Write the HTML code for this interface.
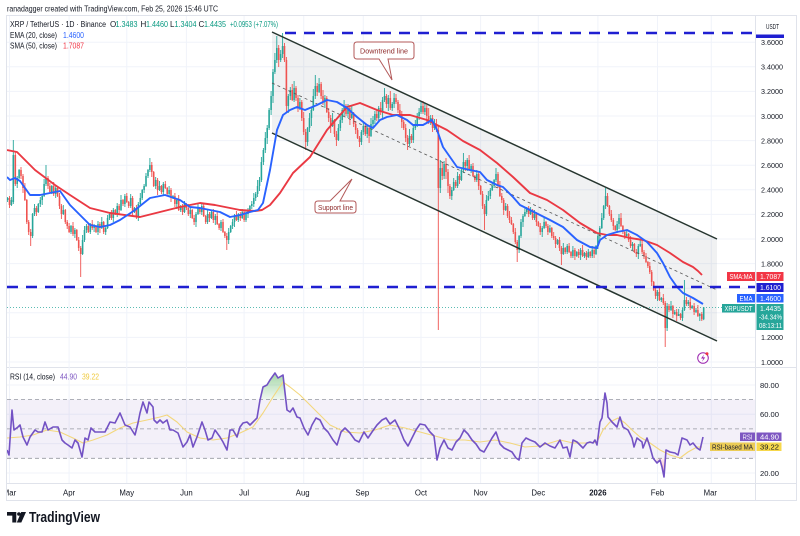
<!DOCTYPE html>
<html><head><meta charset="utf-8">
<style>
html,body{margin:0;padding:0;background:#fff;}
svg{display:block;font-family:"Liberation Sans",sans-serif;}
</style></head><body>
<svg width="800" height="536" viewBox="0 0 800 536" xmlns="http://www.w3.org/2000/svg">
<defs>
<clipPath id="cp"><rect x="7" y="16" width="748.5" height="351"/></clipPath>
<clipPath id="cr"><rect x="7" y="367" width="748.5" height="116"/></clipPath>
<clipPath id="ct"><rect x="7" y="483" width="748.5" height="17"/></clipPath>
<linearGradient id="gg" x1="0" y1="0" x2="0" y2="1"><stop offset="0" stop-color="#4caf50" stop-opacity="0.5"/><stop offset="1" stop-color="#4caf50" stop-opacity="0.08"/></linearGradient>
<linearGradient id="rg" x1="0" y1="0" x2="0" y2="1"><stop offset="0" stop-color="#f23645" stop-opacity="0.08"/><stop offset="1" stop-color="#f23645" stop-opacity="0.5"/></linearGradient>
</defs>
<rect width="800" height="536" fill="#fff"/>

<text x="7" y="11.5" font-size="8.6" fill="#131722" textLength="211" lengthAdjust="spacingAndGlyphs">ranadagger created with TradingView.com, Feb 25, 2026 15:46 UTC</text>

<rect x="6.5" y="15.5" width="790" height="485" fill="none" stroke="#e0e3eb" stroke-width="1"/>
<line x1="7" y1="367.5" x2="797" y2="367.5" stroke="#e0e3eb" stroke-width="1"/>
<line x1="7" y1="483.5" x2="797" y2="483.5" stroke="#e0e3eb" stroke-width="1"/>
<line x1="755.5" y1="16" x2="755.5" y2="500" stroke="#e0e3eb" stroke-width="1"/>

<g stroke="#f0f3fa" stroke-width="1">
<line x1="7" x2="755" y1="42.2" y2="42.2"/><line x1="7" x2="755" y1="66.8" y2="66.8"/><line x1="7" x2="755" y1="91.4" y2="91.4"/><line x1="7" x2="755" y1="116" y2="116"/><line x1="7" x2="755" y1="140.6" y2="140.6"/><line x1="7" x2="755" y1="165.2" y2="165.2"/><line x1="7" x2="755" y1="189.8" y2="189.8"/><line x1="7" x2="755" y1="214.4" y2="214.4"/><line x1="7" x2="755" y1="239" y2="239"/><line x1="7" x2="755" y1="263.6" y2="263.6"/><line x1="7" x2="755" y1="288.2" y2="288.2"/><line x1="7" x2="755" y1="312.8" y2="312.8"/><line x1="7" x2="755" y1="337.4" y2="337.4"/><line x1="7" x2="755" y1="362" y2="362"/>
<line x1="7" x2="755" y1="385" y2="385"/><line x1="7" x2="755" y1="414.2" y2="414.2"/><line x1="7" x2="755" y1="443.6" y2="443.6"/><line x1="7" x2="755" y1="473" y2="473"/>
<line y1="16" y2="483" x1="9.5" x2="9.5"/><line y1="16" y2="483" x1="69.1" x2="69.1"/><line y1="16" y2="483" x1="126.8" x2="126.8"/><line y1="16" y2="483" x1="186.4" x2="186.4"/><line y1="16" y2="483" x1="244.1" x2="244.1"/><line y1="16" y2="483" x1="303.7" x2="303.7"/><line y1="16" y2="483" x1="363.3" x2="363.3"/><line y1="16" y2="483" x1="421" x2="421"/><line y1="16" y2="483" x1="480.6" x2="480.6"/><line y1="16" y2="483" x1="538.3" x2="538.3"/><line y1="16" y2="483" x1="597.9" x2="597.9"/><line y1="16" y2="483" x1="657.5" x2="657.5"/><line y1="16" y2="483" x1="711.3" x2="711.3"/>
</g>

<g clip-path="url(#cp)">
<polygon points="272,32 717,239 717,341 272,133" fill="#787b86" fill-opacity="0.11"/>
<line x1="7" y1="307.5" x2="755" y2="307.5" stroke="#26a69a" stroke-width="0.8" stroke-dasharray="1,2"/>

<path fill="none" stroke="#26a69a" stroke-width="0.9" d="M7.6 197V202M11.4 197V206M13.3 140V204M17.2 176V188M19.1 169V179M32.6 213V238M34.5 204V216M38.3 203V213M40.3 197V207M42.2 194V205M44.1 179V197M46 165V186M51.8 185V194M55.7 186V198M63.3 205V215M71 225V234M74.9 228V238M82.6 235V255M84.5 226V242M86.4 224V233M90.3 223V234M94.1 224V232M98 221V235M101.8 217V229M105.7 226V235M107.6 215V229M109.5 213V220M113.3 208V222M117.2 203V217M121 195V211M124.9 194V207M130.7 194V208M134.5 207V213M138.3 202V221M140.3 193V205M142.2 189V200M144.1 184V193M146 173V187M148 169V178M149.9 158V172M155.7 177V189M159.5 181V191M163.3 182V195M169.1 186V196M173 195V199M176.8 198V209M180.7 205V212M184.5 201V213M190.3 208V218M196 212V227M198 203V215M201.8 204V215M207.6 210V224M211.4 211V219M215.3 214V225M221 220V231M228.7 228V244M230.7 225V233M232.6 219V229M234.5 214V227M238.3 213V222M242.2 209V219M246 210V222M248 208V218M249.9 205V211M251.8 201V209M253.8 193V207M255.7 192V201M257.6 180V197M259.5 177V191M261.4 157V182M263.4 148V165M265.3 132V153M267.2 125V144M269.1 108V130M271.1 91V115M273 69V103M274.9 53V74M276.8 36V63M280.7 50V62M282.6 33V58M288.3 94V113M290.3 87V100M294.1 81V102M299.9 98V110M307.6 127V146M309.5 113V132M311.4 107V126M313.3 89V111M315.3 75V99M319.1 78V93M324.9 95V108M332.6 113V127M338.4 124V141M340.3 116V131M342.2 108V123M344.1 100V116M348 104V118M351.8 106V119M361.4 130V145M363.3 122V135M367.2 126V138M371 118V137M373 116V127M374.9 111V124M378.7 106V121M382.6 97V118M384.5 88V102M388.3 95V111M392.2 102V111M394.1 93V108M409.5 129V146M413.3 125V143M415.3 120V130M417.2 113V127M419.1 108V120M421 102V114M424.9 103V115M430.7 115V125M434.5 119V130M440.3 160V193M444.1 161V179M451.8 187V200M453.7 178V191M457.6 172V188M461.4 169V181M463.4 153V173M467.2 158V171M471.1 164V173M476.8 170V182M486.4 195V216M488.3 191V201M490.3 188V199M492.2 183V191M494.1 179V188M496 168V182M505.7 203V211M519.1 235V253M521 219V238M523 214V227M524.9 207V217M526.8 207V214M530.6 207V215M534.5 210V220M542.2 226V237M544.1 217V229M549.9 225V233M557.6 239V245M563.3 243V255M567.2 244V254M572.9 246V258M576.8 251V257M580.6 248V260M584.5 252V258M588.3 249V258M592.2 246V258M596 245V255M597.9 233V249M599.8 226V241M601.8 213V229M603.7 205V220M605.6 188V209M617.1 221V233M619 214V229M626.7 231V237M632.5 242V250M638.3 244V259M640.2 239V247M657.5 290V301M661.3 297V302M667.1 303V331M671 301V311M674.8 310V315M678.7 309V315M682.5 308V321M684.4 280V311M688.3 300V306M692.1 305V309M696 308V313M699.8 313V321M703.7 307.1V320.1"/>
<path fill="none" stroke="#26a69a" stroke-width="1.6" d="M7.6 198V200M11.4 200V205M13.3 155V202M17.2 178V184M19.1 170V178M32.6 214V236M34.5 208V214M38.3 204V212M40.3 200V204M42.2 196V200M44.1 184V196M46 178V184M51.8 186V192M55.7 188V194M63.3 210V214M71 226V232M74.9 230V234M82.6 240V254M84.5 230V240M86.4 226V230M90.3 224V232M94.1 226V228M98 224V232M101.8 222V228M105.7 228V232M107.6 218V228M109.5 214V218M113.3 210V218M117.2 206V214M121 200V210M124.9 196V204M130.7 198V206M134.5 208V212M138.3 204V216M140.3 198V204M142.2 190V198M144.1 186V190M146 176V186M148 170V176M149.9 165V170M155.7 180V186M159.5 186V190M163.3 184V192M169.1 190V194M173 196V198M176.8 200V204M180.7 206V210M184.5 204V212M190.3 210V214M196 214V222M198 208V214M201.8 206V212M207.6 214V222M211.4 212V218M215.3 216V220M221 222V228M228.7 232V240M230.7 226V232M232.6 222V226M234.5 216V222M238.3 214V220M242.2 212V218M246 214V220M248 210V214M249.9 206V210M251.8 204V206M253.8 198V204M255.7 194V198M257.6 186V194M259.5 180V186M261.4 162V180M263.4 150V162M265.3 138V150M267.2 128V138M269.1 110V128M271.1 96V110M273 72V96M274.9 60V72M276.8 48V60M280.7 54V60M282.6 46V54M288.3 96V106M290.3 90V96M294.1 88V100M299.9 102V108M307.6 128V142M309.5 118V128M311.4 110V118M313.3 96V110M315.3 86V96M319.1 84V92M324.9 98V102M332.6 120V126M338.4 128V140M340.3 120V128M342.2 110V120M344.1 106V110M348 108V114M351.8 114V118M361.4 132V142M363.3 126V132M367.2 128V134M371 124V136M373 120V124M374.9 114V120M378.7 108V118M382.6 100V112M384.5 96V100M388.3 98V104M392.2 104V108M394.1 98V104M409.5 136V144M413.3 128V140M415.3 124V128M417.2 116V124M419.1 112V116M421 106V112M424.9 108V112M430.7 118V122M434.5 124V128M440.3 168V188M444.1 164V176M451.8 190V196M453.7 182V190M457.6 176V186M461.4 170V180M463.4 162V170M467.2 160V166M471.1 166V170M476.8 174V180M486.4 200V214M488.3 196V200M490.3 190V196M492.2 186V190M494.1 180V186M496 174V180M505.7 206V210M519.1 236V250M521 222V236M523 216V222M524.9 212V216M526.8 208V212M530.6 210V214M534.5 214V218M542.2 228V232M544.1 222V228M549.9 228V232M557.6 240V244M563.3 248V254M567.2 246V252M572.9 250V256M576.8 252V256M580.6 250V255M584.5 253V256M588.3 252V257M592.2 250V256M596 246V254M597.9 236V246M599.8 228V236M601.8 218V228M603.7 206V218M605.6 196V206M617.1 224V230M619 218V224M626.7 234V236M632.5 244V246M638.3 246V254M640.2 244V246M657.5 292V296M661.3 298V300M667.1 306V328M671 306V310M674.8 312V314M678.7 314V316M682.5 310V318M684.4 300V310M688.3 302V304M692.1 306V308M696 310V312M699.8 314V316M703.7 307.4V319.2"/>

<path fill="none" stroke="#ef5350" stroke-width="0.9" d="M9.5 196V208M15.3 151V186M21 167V179M23 174V193M24.9 183V201M26.8 199V224M28.7 220V235M30.7 229V246M36.4 206V216M48 176V189M49.9 183V193M53.7 182V196M57.6 187V197M59.5 193V209M61.4 204V219M65.3 209V224M67.2 220V229M69.1 223V233M73 222V236M76.8 229V241M78.7 237V251M80.7 246V277M88.3 223V233M92.2 220V230M96 225V233M99.9 222V233M103.7 221V234M111.4 210V220M115.3 209V215M119.1 204V215M123 199V206M126.8 193V203M128.7 201V208M132.6 196V216M136.4 205V219M151.8 162V177M153.7 171V187M157.6 178V195M161.4 185V194M165.3 181V189M167.2 187V196M171 188V202M174.9 193V207M178.7 195V211M182.6 204V215M186.4 203V210M188.3 204V216M192.2 209V219M194.1 215V225M199.9 207V214M203.7 203V217M205.7 215V224M209.5 212V222M213.3 209V223M217.2 211V225M219.1 223V230M223 219V233M224.9 231V238M226.8 233V250M236.4 211V221M240.3 212V221M244.1 211V222M278.7 45V67M284.5 43V62M286.4 57V112M292.2 84V101M296 86V101M298 95V112M301.8 100V121M303.7 112V135M305.7 129V150M317.2 83V96M321.1 82V99M323 90V105M326.8 96V113M328.7 108V122M330.7 115V133M334.5 119V137M336.4 131V146M346 104V116M349.9 105V125M353.7 112V127M355.7 121V134M357.6 128V139M359.5 136V147M365.3 123V136M369.1 125V143M376.8 110V121M380.7 102V115M386.4 94V108M390.3 91V110M396 94V104M398 100V113M399.9 104V117M401.8 111V128M403.7 120V130M405.7 124V142M407.6 135V150M411.4 134V143M423 101V114M426.8 105V123M428.7 108V124M432.6 115V132M436.4 119V132M438.3 125V330M442.2 162V180M446 158V179M448 169V193M449.9 184V199M455.7 180V188M459.5 174V184M465.3 160V171M469.1 155V171M473 163V177M474.9 175V182M478.7 172V190M480.7 185V195M482.6 191V209M484.5 204V230M498 172V188M499.9 181V197M501.8 193V203M503.7 198V215M507.6 204V218M509.5 211V223M511.4 217V225M513.3 223V234M515.3 228V244M517.2 240V262M528.7 206V217M532.6 209V220M536.4 212V226M538.3 221V227M540.2 223V235M546 221V228M547.9 224V235M551.8 227V238M553.7 232V240M555.6 236V248M559.5 237V251M561.4 246V265M565.2 247V254M569.1 243V253M571 251V258M574.9 248V260M578.7 249V258M582.6 245V257M586.4 251V260M590.2 251V258M594.1 248V258M607.5 193V207M609.4 205V216M611.3 210V222M613.3 218V230M615.2 225V231M621 213V227M622.9 225V234M624.8 230V239M628.7 233V242M630.6 236V248M634.4 243V253M636.3 249V257M642.1 241V254M644 250V259M646 253V263M647.9 261V268M649.8 262V274M651.7 270V286M653.7 281V291M655.6 287V299M659.4 287V301M663.3 294V305M665.2 301V347M669 304V312M672.9 305V318M676.7 309V321M680.6 313V320M686.4 297V306M690.2 298V310M694.1 303V315M697.9 305V317M701.8 312V321"/>
<path fill="none" stroke="#ef5350" stroke-width="1.6" d="M9.5 198V205M15.3 155V184M21 170V176M23 176V188M24.9 188V200M26.8 200V222M28.7 222V232M30.7 232V236M36.4 208V212M48 178V186M49.9 186V192M53.7 186V194M57.6 188V196M59.5 196V206M61.4 206V214M65.3 210V222M67.2 222V226M69.1 226V232M73 226V234M76.8 230V240M78.7 240V248M80.7 248V254M88.3 226V232M92.2 224V228M96 226V232M99.9 224V228M103.7 222V232M111.4 214V218M115.3 210V214M119.1 206V210M123 200V204M126.8 196V202M128.7 202V206M132.6 198V212M136.4 208V216M151.8 165V172M153.7 172V186M157.6 180V190M161.4 186V192M165.3 184V188M167.2 188V194M171 190V198M174.9 196V204M178.7 200V210M182.6 206V212M186.4 204V208M188.3 208V214M192.2 210V218M194.1 218V222M199.9 208V212M203.7 206V216M205.7 216V222M209.5 214V218M213.3 212V220M217.2 216V224M219.1 224V228M223 222V232M224.9 232V236M226.8 236V240M236.4 216V220M240.3 214V218M244.1 212V220M278.7 48V60M284.5 46V60M286.4 60V106M292.2 90V100M296 88V98M298 98V108M301.8 102V118M303.7 118V132M305.7 132V142M317.2 86V92M321.1 84V96M323 96V102M326.8 98V112M328.7 112V118M330.7 118V126M334.5 120V134M336.4 134V140M346 106V114M349.9 108V118M353.7 114V124M355.7 124V130M357.6 130V138M359.5 138V142M365.3 126V134M369.1 128V136M376.8 114V118M380.7 108V112M386.4 96V104M390.3 98V108M396 98V102M398 102V110M399.9 110V114M401.8 114V122M403.7 122V128M405.7 128V138M407.6 138V144M411.4 136V140M423 106V112M426.8 108V116M428.7 116V122M432.6 118V128M436.4 124V130M438.3 130V188M442.2 168V176M446 164V172M448 172V186M449.9 186V196M455.7 182V186M459.5 176V180M465.3 162V166M469.1 160V170M473 166V176M474.9 176V180M478.7 174V186M480.7 186V194M482.6 194V206M484.5 206V214M498 174V186M499.9 186V196M501.8 196V200M503.7 200V210M507.6 206V216M509.5 216V220M511.4 220V224M513.3 224V232M515.3 232V242M517.2 242V250M528.7 208V214M532.6 210V218M536.4 214V222M538.3 222V226M540.2 226V232M546 222V226M547.9 226V232M551.8 228V236M553.7 236V238M555.6 238V244M559.5 240V248M561.4 248V254M565.2 248V252M569.1 246V252M571 252V256M574.9 250V256M578.7 252V255M582.6 250V256M586.4 253V257M590.2 252V256M594.1 250V254M607.5 196V206M609.4 206V214M611.3 214V220M613.3 220V226M615.2 226V230M621 218V226M622.9 226V232M624.8 232V236M628.7 234V240M630.6 240V246M634.4 244V252M636.3 252V254M642.1 244V252M644 252V256M646 256V262M647.9 262V266M649.8 266V272M651.7 272V282M653.7 282V290M655.6 290V296M659.4 292V300M663.3 298V303M665.2 303V328M669 306V310M672.9 306V314M676.7 312V316M680.6 314V318M686.4 300V304M690.2 302V308M694.1 306V312M697.9 310V316M701.8 314V319.2"/>

<line x1="272" y1="32" x2="717" y2="239" stroke="#26352f" stroke-width="1.5"/>
<line x1="272" y1="133" x2="717" y2="341" stroke="#26352f" stroke-width="1.5"/>
<line x1="272" y1="83" x2="717" y2="290" stroke="#555" stroke-width="0.8" stroke-dasharray="3,3"/>
<polyline fill="none" stroke="#ea3943" stroke-width="1.9" stroke-linejoin="round" points="7,150 17,152 25,160 35,170 55,185 70,195 90,208 110,213 140,217 160,212 180,207 200,203 215,205 240,210 255,211 262,210 270,205 280,193 293,173 310,157 327,130 347,107 360,103 377,110 393,115 410,115 427,120 447,130 463,141 480,150 497,163 513,177 530,193 547,200 563,210 580,223 597,233 607,235 617,235 630,238 643,240 657,245 670,253 683,262 693,267 698,271 702,275"/>
<polyline fill="none" stroke="#2962ff" stroke-width="1.9" stroke-linejoin="round" points="7,177 10,180 15,178 20,181 30,195 40,195 50,193 60,191 70,205 80,215 90,225 100,227 110,225 120,220 135,210 150,198 165,195 180,200 190,207 200,208 210,210 220,212 230,217 240,215 250,212 258,210 263,203 270,170 277,130 283,115 290,110 297,107 305,110 317,105 327,100 337,102 347,108 357,117 367,125 373,128 380,120 387,117 397,115 407,120 413,125 423,125 432,120 437,130 443,147 457,167 470,170 480,172 487,180 497,185 503,187 513,197 520,205 530,210 540,215 550,220 563,227 577,240 590,247 597,248 600,240 607,235 617,232 627,230 637,235 647,242 657,253 663,263 670,277 677,287 683,293 693,298 703,304"/>
<line x1="285" y1="33" x2="755" y2="33" stroke="#1f1fd1" stroke-width="2.6" stroke-dasharray="11,8"/>
<line x1="7" y1="287" x2="755" y2="287" stroke="#1f1fd1" stroke-width="2.6" stroke-dasharray="11,8"/>
</g>

<path d="M357,42 H411 Q414,42 414,45 V56 Q414,59 411,59 H388 L392,80 L379,59 H357 Q354,59 354,56 V45 Q354,42 357,42 Z" fill="#fff" stroke="#b35a5a" stroke-width="1"/>
<text x="360" y="53.3" font-size="7.6" fill="#8e2a2a" textLength="48" lengthAdjust="spacingAndGlyphs">Downtrend line</text>
<path d="M318,201 H330 L352,179 L340,201 H353 Q356,201 356,204 V210 Q356,213 353,213 H318 Q315,213 315,210 V204 Q315,201 318,201 Z" fill="#fff" stroke="#b35a5a" stroke-width="1"/>
<text x="318" y="210" font-size="7.2" fill="#8e2a2a" textLength="35" lengthAdjust="spacingAndGlyphs">Support line</text>

<g font-size="8">
<text x="10" y="27" fill="#131722" textLength="96" lengthAdjust="spacingAndGlyphs">XRP / TetherUS · 1D · Binance</text>
<text x="110" y="27" fill="#131722">O</text><text x="115.5" y="27" fill="#089981" textLength="22" lengthAdjust="spacingAndGlyphs">1.3483</text>
<text x="140.5" y="27" fill="#131722">H</text><text x="146" y="27" fill="#089981" textLength="22" lengthAdjust="spacingAndGlyphs">1.4460</text>
<text x="170" y="27" fill="#131722">L</text><text x="174.5" y="27" fill="#089981" textLength="22" lengthAdjust="spacingAndGlyphs">1.3404</text>
<text x="198.5" y="27" fill="#131722">C</text><text x="204" y="27" fill="#089981" textLength="22" lengthAdjust="spacingAndGlyphs">1.4435</text>
<text x="230" y="27" fill="#089981" textLength="48" lengthAdjust="spacingAndGlyphs">+0.0953 (+7.07%)</text>
<text x="10" y="38" fill="#131722" textLength="47" lengthAdjust="spacingAndGlyphs">EMA (20, close)</text>
<text x="63" y="38" fill="#2962ff" textLength="21" lengthAdjust="spacingAndGlyphs">1.4600</text>
<text x="10" y="48.5" fill="#131722" textLength="47" lengthAdjust="spacingAndGlyphs">SMA (50, close)</text>
<text x="63" y="48.5" fill="#f23645" textLength="21" lengthAdjust="spacingAndGlyphs">1.7087</text>
</g>

<g font-size="7.6" fill="#131722">
<text x="766" y="29" font-size="7" textLength="13" lengthAdjust="spacingAndGlyphs">USDT</text>
<text x="761" y="45" textLength="22" lengthAdjust="spacingAndGlyphs">3.6000</text>
<text x="761" y="69.6" textLength="22" lengthAdjust="spacingAndGlyphs">3.4000</text>
<text x="761" y="94.2" textLength="22" lengthAdjust="spacingAndGlyphs">3.2000</text>
<text x="761" y="118.8" textLength="22" lengthAdjust="spacingAndGlyphs">3.0000</text>
<text x="761" y="143.4" textLength="22" lengthAdjust="spacingAndGlyphs">2.8000</text>
<text x="761" y="168" textLength="22" lengthAdjust="spacingAndGlyphs">2.6000</text>
<text x="761" y="192.6" textLength="22" lengthAdjust="spacingAndGlyphs">2.4000</text>
<text x="761" y="217.2" textLength="22" lengthAdjust="spacingAndGlyphs">2.2000</text>
<text x="761" y="241.8" textLength="22" lengthAdjust="spacingAndGlyphs">2.0000</text>
<text x="761" y="266.4" textLength="22" lengthAdjust="spacingAndGlyphs">1.8000</text>
<text x="761" y="340.2" textLength="22" lengthAdjust="spacingAndGlyphs">1.2000</text>
<text x="761" y="364.8" textLength="22" lengthAdjust="spacingAndGlyphs">1.0000</text>
<text x="760" y="388" textLength="19" lengthAdjust="spacingAndGlyphs">80.00</text>
<text x="760" y="417.2" textLength="19" lengthAdjust="spacingAndGlyphs">60.00</text>
<text x="760" y="476" textLength="19" lengthAdjust="spacingAndGlyphs">20.00</text>
</g>
<rect x="756" y="34.5" width="28" height="3.5" fill="#1f1fd1"/>

<g font-size="7" fill="#fff">
<rect x="727" y="272" width="28" height="9" fill="#f23645"/><text x="729.5" y="279" textLength="23" lengthAdjust="spacingAndGlyphs">SMA:MA</text>
<rect x="756.5" y="272" width="27" height="9" fill="#f23645"/><text x="760" y="279" textLength="21" lengthAdjust="spacingAndGlyphs">1.7087</text>
<rect x="756.5" y="283" width="27" height="9" fill="#1f1fd1"/><text x="760" y="290" textLength="21" lengthAdjust="spacingAndGlyphs">1.6100</text>
<rect x="737" y="294" width="18" height="8.5" fill="#2962ff"/><text x="739.5" y="300.8" textLength="13" lengthAdjust="spacingAndGlyphs">EMA</text>
<rect x="756.5" y="294" width="27" height="8.5" fill="#2962ff"/><text x="760" y="300.8" textLength="21" lengthAdjust="spacingAndGlyphs">1.4600</text>
<rect x="722" y="304" width="33" height="8.5" fill="#26a69a"/><text x="724.5" y="310.8" textLength="28" lengthAdjust="spacingAndGlyphs">XRPUSDT</text>
<rect x="756.5" y="304" width="27" height="26" fill="#26a69a"/>
<text x="760" y="310.8" textLength="21" lengthAdjust="spacingAndGlyphs">1.4435</text>
<text x="759" y="319.3" textLength="23" lengthAdjust="spacingAndGlyphs">-34.34%</text>
<text x="759" y="327.8" textLength="23" lengthAdjust="spacingAndGlyphs">08:13:11</text>
<rect x="740" y="432.5" width="15" height="8.5" fill="#7e57c2"/><text x="742.5" y="439.3" textLength="10" lengthAdjust="spacingAndGlyphs">RSI</text>
<rect x="756.5" y="432.5" width="25" height="8.5" fill="#7e57c2"/><text x="760" y="439.3" textLength="19" lengthAdjust="spacingAndGlyphs">44.90</text>
<rect x="710" y="442.5" width="45" height="8.5" fill="#f7d84c"/><text x="712" y="449.3" fill="#131722" textLength="41" lengthAdjust="spacingAndGlyphs">RSI-based MA</text>
<rect x="756.5" y="442.5" width="25" height="8.5" fill="#f7d84c"/><text x="760" y="449.3" fill="#131722" textLength="19" lengthAdjust="spacingAndGlyphs">39.22</text>
</g>

<circle cx="703" cy="358" r="5.3" fill="#fff" stroke="#9c27b0" stroke-width="1"/>
<path d="M704,354.5 L701,358.5 H703.3 L702,361.8 L705.2,357.4 H703 Z" fill="#9c27b0"/>
<circle cx="707" cy="353.8" r="1.5" fill="#f23645"/>

<g clip-path="url(#cr)">
<rect x="7" y="399.5" width="748" height="58.8" fill="#7e57c2" fill-opacity="0.09"/>
<g stroke="#9598a1" stroke-width="0.8" stroke-dasharray="4,3">
<line x1="7" x2="755" y1="399.5" y2="399.5"/>
<line x1="7" x2="755" y1="428.9" y2="428.9"/>
<line x1="7" x2="755" y1="458.3" y2="458.3"/>
</g>
<polygon points="259.5,399.5 260,400 263,387 267,385 270,380 275,373 278,378 283,375 285.7,399.5" fill="url(#gg)"/>
<polygon points="604,399.5 605,393 606.4,399.5" fill="url(#gg)"/>
<polygon points="655.5,458.3 657,463 660,460 662,467 664,477 665.3,458.3" fill="url(#rg)"/>
<polyline fill="none" stroke="#f3d77d" stroke-width="1.1" stroke-linejoin="round" points="7,438 20,437 33,435 47,430 60,432 73,438 83,443 93,440 107,435 120,428 133,423 147,420 160,417 167,415 177,422 187,432 200,438 213,440 227,438 240,433 253,427 263,413 273,397 283,382 290,387 300,395 310,405 320,415 330,425 345,432 360,433 375,430 390,425 405,428 420,432 435,436 450,440 465,440 480,442 495,440 510,443 525,447 540,446 560,440 573,443 587,443 597,442 603,430 610,422 618,418 625,423 632,430 640,437 650,443 660,450 670,455 680,458 688,452 697,447 702,447"/>
<polyline fill="none" stroke="#7352c4" stroke-width="1.6" stroke-linejoin="round" points="7,450 9,455 12,410 14,430 18,427 20,425 23,437 27,445 30,437 35,430 38,432 42,432 45,422 48,430 53,427 58,427 62,440 65,443 68,445 72,448 75,440 78,443 82,457 85,438 88,440 91,428 95,432 100,432 105,432 110,422 115,423 120,413 125,425 130,427 135,435 138,423 140,413 143,402 147,413 149,402 153,407 154,420 157,423 160,420 163,423 167,420 170,430 173,430 178,433 183,447 187,442 190,435 193,447 197,437 202,422 205,430 208,440 212,438 215,430 220,437 223,442 227,450 230,430 233,430 237,437 240,427 243,423 247,422 250,425 253,422 257,418 260,400 263,387 267,385 270,380 275,373 278,378 283,375 287,410 290,412 293,408 297,417 300,418 304,428 308,435 312,425 316,418 320,420 324,428 328,432 333,440 337,445 341,432 345,428 350,433 355,440 359,442 364,432 368,438 372,432 377,425 382,420 386,418 390,424 395,420 400,430 404,440 408,446 412,438 416,430 420,424 425,425 430,432 434,436 437,460 440,448 444,440 448,448 452,450 456,442 460,438 464,430 468,434 472,440 476,444 480,450 484,452 488,445 492,438 496,432 500,444 504,448 508,450 512,452 516,458 519,460 522,443 526,438 530,440 535,442 540,447 545,443 550,446 555,448 560,440 563,448 567,447 570,457 573,440 577,442 580,445 583,448 587,443 590,442 593,443 595,440 597,445 600,422 602,418 605,393 607,403 608,417 612,422 617,427 620,417 623,427 628,430 632,438 634,447 637,438 642,442 643,448 647,438 650,447 653,458 657,463 660,460 662,467 664,477 666,450 670,452 675,453 678,455 682,438 687,440 690,445 693,443 697,448 700,450 703,437"/>
</g>
<g font-size="8">
<text x="10" y="379.5" fill="#131722" textLength="45" lengthAdjust="spacingAndGlyphs">RSI (14, close)</text>
<text x="60" y="379.5" fill="#7e57c2" textLength="17" lengthAdjust="spacingAndGlyphs">44.90</text>
<text x="82" y="379.5" fill="#f0c93a" textLength="17" lengthAdjust="spacingAndGlyphs">39.22</text>
</g>

<g font-size="7.8" fill="#131722" text-anchor="middle" clip-path="url(#ct)">
<text x="9.5" y="495.5">Mar</text>
<text x="69.1" y="495.5">Apr</text>
<text x="126.8" y="495.5">May</text>
<text x="186.4" y="495.5">Jun</text>
<text x="244.1" y="495.5">Jul</text>
<text x="302.7" y="495.5">Aug</text>
<text x="362.3" y="495.5">Sep</text>
<text x="421" y="495.5">Oct</text>
<text x="480.6" y="495.5">Nov</text>
<text x="538.3" y="495.5">Dec</text>
<text x="597.9" y="495.5" font-weight="bold">2026</text>
<text x="657.5" y="495.5">Feb</text>
<text x="710.3" y="495.5">Mar</text>
</g>

<g fill="#131722">
<path d="M7,512 H16.3 V522.5 H12.3 V515.6 H7 Z"/>
<circle cx="18.9" cy="514" r="1.8"/>
<path d="M21.2,512 H26 L21.3,522.5 H16.8 Z"/>
<text x="29" y="522" font-size="14.5" font-weight="bold" textLength="71" lengthAdjust="spacingAndGlyphs">TradingView</text>
</g>
</svg>
</body></html>
